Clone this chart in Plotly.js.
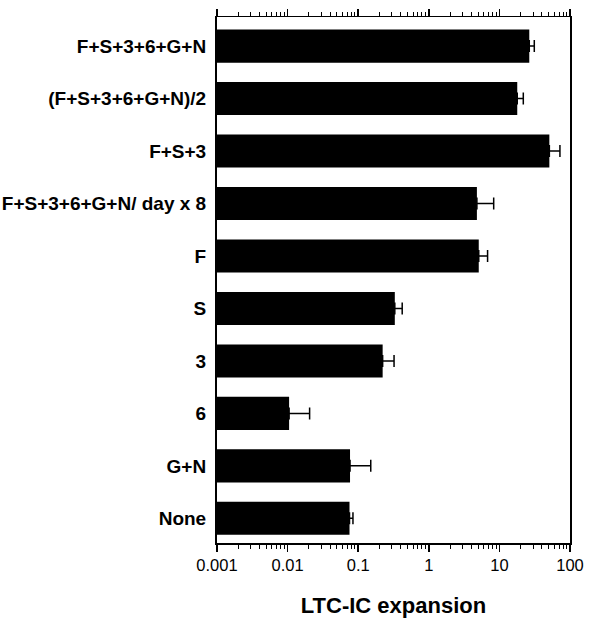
<!DOCTYPE html>
<html>
<head>
<meta charset="utf-8">
<script src="https://cdn.plot.ly/plotly-3.0.1.min.js"></script>
<style>html,body{margin:0;padding:0;background:#fff;}#chart{width:591px;height:623px;}</style>
</head>
<body>
<div id="chart"></div>
<script>
const categories = ["F+S+3+6+G+N", "(F+S+3+6+G+N)/2", "F+S+3", "F+S+3+6+G+N/ day x 8", "F", "S", "3", "6", "G+N", "None"];
const expansion = [26.5, 17.9, 51, 4.8, 5.1, 0.33, 0.222, 0.0105, 0.0766, 0.0753];
const errorPlus = [4.7, 3.9, 21, 3.5, 1.7, 0.09, 0.10, 0.010, 0.074, 0.009];
const xTickVals = [0.001, 0.01, 0.1, 1, 10, 100];
const xTickText = ["0.001", "0.01", "0.1", "1", "10", "100"];
const xTitle = "LTC-IC expansion";

const trace = {
  type: 'bar',
  orientation: 'h',
  y: categories,
  x: expansion,
  width: 0.63,
  marker: {color: '#000', line: {width: 0}},
  error_x: {
    type: 'data', symmetric: false,
    array: errorPlus,
    arrayminus: errorPlus.map(() => 0),
    color: '#000', thickness: 1.5, width: 6
  },
  hoverinfo: 'none'
};

const layout = {
  width: 591, height: 623,
  margin: {l: 217, r: 21, t: 17, b: 80},
  paper_bgcolor: '#fff', plot_bgcolor: '#fff',
  showlegend: false,
  font: {family: '"Liberation Sans", Arial, sans-serif', color: '#000'},
  xaxis: {
    type: 'log',
    range: [-3, 2],
    tickmode: 'array',
    tickvals: xTickVals,
    ticktext: xTickText,
    ticks: 'outside', ticklen: 7, tickwidth: 1.5, tickcolor: '#000',
    minor: {ticks: 'outside', ticklen: 4, tickwidth: 1, tickcolor: '#000', dtick: 'D1', showgrid: false},
    showline: true, linecolor: '#000', linewidth: 1.5,
    mirror: 'ticks',
    showgrid: false, zeroline: false,
    tickfont: {size: 16.5, color: '#000'},
    title: {text: xTitle, font: {size: 22, color: '#000', family: '"Liberation Sans", Arial, sans-serif', weight: 'bold'}, standoff: 24}
  },
  yaxis: {
    type: 'category',
    range: [9.47, -0.555],
    ticks: '',
    ticklabelstandoff: 5,
    showline: true, linecolor: '#000', linewidth: 2,
    mirror: true,
    showgrid: false, zeroline: false,
    tickfont: {size: 19, color: '#000', weight: 'bold'}
  }
};

Plotly.newPlot('chart', [trace], layout, {displayModeBar: false, staticPlot: true});
</script>
</body>
</html>
